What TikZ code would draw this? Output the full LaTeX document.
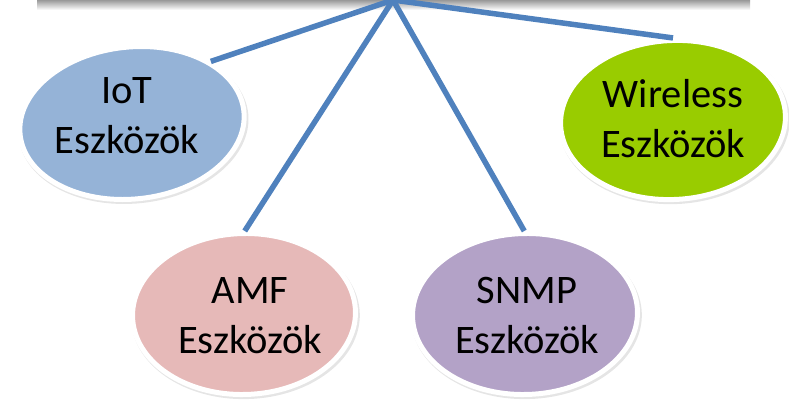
\documentclass[tikz,border=0pt]{standalone}
\usepackage{fontspec}
\setmainfont{Carlito}
\usetikzlibrary{shapes.geometric,shadows}
\definecolor{iotc}{HTML}{95B3D7}
\definecolor{wlc}{HTML}{99CC00}
\definecolor{amfc}{HTML}{E6B9B8}
\definecolor{snmpc}{HTML}{B3A2C7}
\definecolor{linec}{HTML}{4F81BD}
\begin{document}
\begin{tikzpicture}[x=1pt,y=-1pt,
  bub/.style={ellipse, draw=white, line width=5pt, inner sep=0pt,
    drop shadow={fill=black, opacity=0.1, shadow xshift=1.5pt, shadow yshift=-2.5pt, shadow scale=1.025}},
  txt/.style={font=\fontsize{40.5}{50}\selectfont, align=center, text=black, inner sep=0pt},
  conn/.style={draw=linec, line width=5.5pt}]
\useasboundingbox (0,0) rectangle (789,404);
\shade[top color=gray!80, bottom color=white] (37,0) rectangle (750,10);
\coordinate (hub) at (393,0);
\node[bub, fill=iotc, minimum width=225pt, minimum height=152pt, rotate=6] (iot) at (132,123) {};
\node[bub, fill=wlc, minimum width=225pt, minimum height=159pt, rotate=3] (wl) at (673,120) {};
\node[bub, fill=amfc, minimum width=223pt, minimum height=161pt, rotate=1.5] (amf) at (244,314) {};
\node[bub, fill=snmpc, minimum width=225pt, minimum height=161pt, rotate=1.5] (snmp) at (525,314) {};
\draw[conn] (hub) -- (iot.32);
\draw[conn] (hub) -- (wl.87);
\draw[conn] (hub) -- (amf.88);
\draw[conn] (hub) -- (snmp.89);
\node[txt] (iott) at (127,116) {IoT\\Eszközök};
\node[txt] (wlt) at (673,119) {Wireless\\Eszközök};
\node[txt] (amft) at (250,316) {AMF\\Eszközök};
\node[txt] (snmpt) at (527,316) {SNMP\\Eszközök};
\end{tikzpicture}
\end{document}
